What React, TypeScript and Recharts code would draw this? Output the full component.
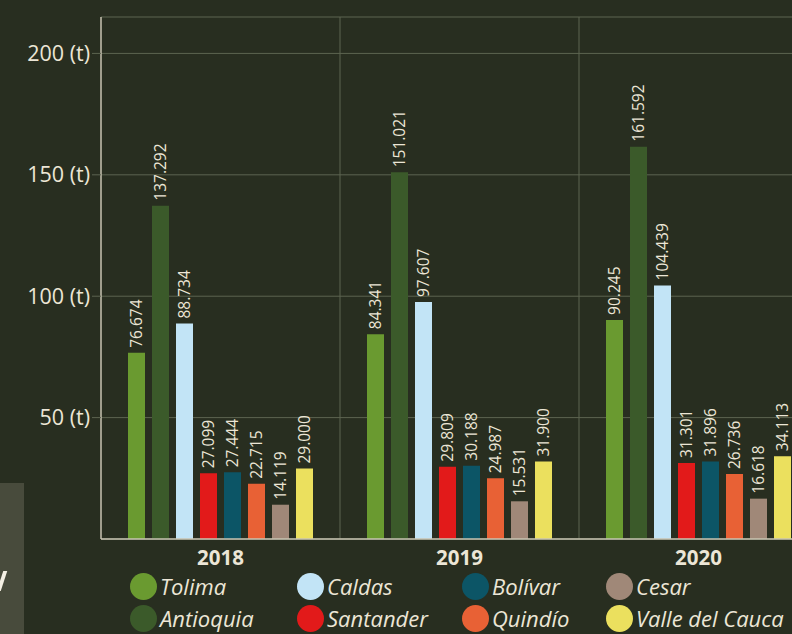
import { Bar, BarChart, CartesianGrid, LabelList, XAxis, YAxis } from 'recharts';

const years = ['2018', '2019', '2020'];

const tolima = [76.674, 84.341, 90.245];
const antioquia = [137.292, 151.021, 161.592];
const caldas = [88.734, 97.607, 104.439];
const santander = [27.099, 29.809, 31.301];
const bolivar = [27.444, 30.188, 31.896];
const quindio = [22.715, 24.987, 26.736];
const cesar = [14.119, 15.531, 16.618];
const valle = [29.0, 31.9, 34.113];

const yTicks = [50, 100, 150, 200];

const series = [
    { key: 'tolima', name: 'Tolima', color: '#6a9a30', values: tolima },
    { key: 'antioquia', name: 'Antioquia', color: '#3b5a2a', values: antioquia },
    { key: 'caldas', name: 'Caldas', color: '#c2e4f6', values: caldas },
    { key: 'santander', name: 'Santander', color: '#e21a1a', values: santander },
    { key: 'bolivar', name: 'Bolívar', color: '#0c5566', values: bolivar },
    { key: 'quindio', name: 'Quindío', color: '#e86135', values: quindio },
    { key: 'cesar', name: 'Cesar', color: '#a08878', values: cesar },
    { key: 'valle', name: 'Valle del Cauca', color: '#ebe05e', values: valle },
];

const data = years.map((year, i) => {
    const row: any = { year };
    series.forEach((s) => {
        row[s.key] = s.values[i];
    });
    return row;
});

const BG = '#282e20';
const CREAM = '#ece6d6';
const GRID = '#5d6450';

// legend sits in 4 columns, 2 rows (column-major like the series order)
const legendCols = [130, 297, 462, 606];
const legendRows = [586, 618];

const renderValueLabel = (props: any) => {
    const { x, y, width, value } = props;
    const cx = x + width / 2;
    const ty = y - 5;
    return (
        <text
            x={cx}
            y={ty}
            transform={`rotate(-90 ${cx} ${ty})`}
            fill={CREAM}
            fontSize={15.5}
            textAnchor="start"
            dominantBaseline="central"
        >
            {Number(value).toFixed(3)}
        </text>
    );
};

const App = () => {
    return (
        <div
            style={{
                position: 'fixed',
                left: 0,
                top: 0,
                width: 792,
                height: 634,
                overflow: 'hidden',
                background: BG,
                fontFamily: '"Open Sans", sans-serif',
            }}
        >
            {/* cut-off panel at the left edge */}
            <div
                style={{
                    position: 'absolute',
                    left: 0,
                    top: 483,
                    width: 24,
                    height: 151,
                    background: '#484b3c',
                    overflow: 'hidden',
                }}
            >
                <div
                    style={{
                        position: 'absolute',
                        left: 0,
                        top: 88,
                        width: 4,
                        height: 20,
                        background: '#f4f0e4',
                        transform: 'skewX(-18deg)',
                    }}
                />
            </div>

            <div style={{ position: 'absolute', left: 0, top: 0 }}>
                <BarChart
                    width={818}
                    height={580}
                    data={data}
                    margin={{ top: 17, right: 0, left: 0, bottom: 0 }}
                    barSize={17}
                    barGap={7}
                >
                    <CartesianGrid
                        stroke={GRID}
                        strokeWidth={1}
                        verticalCoordinatesGenerator={({ offset }: any) => [
                            offset.left + offset.width / 3,
                            offset.left + (2 * offset.width) / 3,
                        ]}
                    />
                    <XAxis
                        dataKey="year"
                        axisLine={{ stroke: '#c9c4b2', strokeWidth: 1.5 }}
                        tickLine={false}
                        height={41}
                        tick={{ fill: CREAM, fontSize: 20.5, fontWeight: 700 }}
                        tickMargin={5}
                    />
                    <YAxis
                        width={101}
                        domain={[0, 215]}
                        ticks={yTicks}
                        interval={0}
                        tickFormatter={(v: number) => `${v} (t)`}
                        axisLine={{ stroke: '#c9c4b2', strokeWidth: 1.5 }}
                        tickLine={{ stroke: GRID }}
                        tickSize={9}
                        tickMargin={2}
                        tick={{ fill: CREAM, fontSize: 21.5 }}
                    />
                    {series.map((s) => (
                        <Bar
                            key={s.key}
                            dataKey={s.key}
                            name={s.name}
                            fill={s.color}
                            isAnimationActive={false}
                        >
                            <LabelList dataKey={s.key} content={renderValueLabel} />
                        </Bar>
                    ))}
                </BarChart>
            </div>

            {series.map((s, i) => {
                const left = legendCols[Math.floor(i / 2)];
                const cy = legendRows[i % 2];
                return (
                    <div
                        key={s.key}
                        style={{
                            position: 'absolute',
                            left,
                            top: cy - 14,
                            height: 28,
                            display: 'flex',
                            alignItems: 'center',
                            whiteSpace: 'nowrap',
                        }}
                    >
                        <span
                            style={{
                                width: 27,
                                height: 27,
                                borderRadius: '50%',
                                background: s.color,
                                display: 'inline-block',
                                marginRight: 3,
                            }}
                        />
                        <span style={{ color: CREAM, fontSize: 22, fontStyle: 'italic' }}>
                            {s.name}
                        </span>
                    </div>
                );
            })}
        </div>
    );
};

export default App;
